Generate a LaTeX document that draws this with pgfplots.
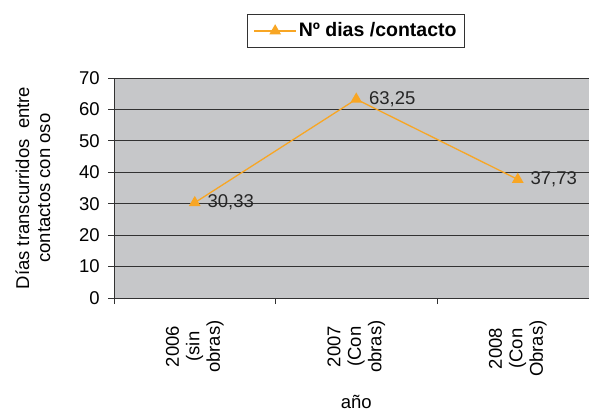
\documentclass[border=0pt]{standalone}
\usepackage{fontspec}
\setmainfont{Liberation Sans}
\usepackage{pgfplots}
\pgfplotsset{compat=1.18}
\definecolor{bggray}{RGB}{198,199,201}
\definecolor{lineor}{RGB}{248,166,36}
\definecolor{gridc}{RGB}{50,50,50}
\begin{document}
\begin{tikzpicture}[x=1bp,y=1bp]
\useasboundingbox (0,0) rectangle (589,412);
\fontsize{18.5bp}{21bp}\selectfont
\begin{axis}[
  at={(114bp,114bp)}, anchor=south west,
  scale only axis, width=484.5bp, height=220bp,
  xmin=-0.5, xmax=2.5, ymin=0, ymax=70,
  axis lines=left,
  axis line style={-, draw=gridc, line width=0.8bp},
  axis background/.style={fill=bggray},
  ytick={0,10,...,70},
  ymajorgrids, grid style={draw=gridc, line width=0.8bp},
  xtick={-0.5,0.5,1.5},
  xticklabels={},
  extra x ticks={0,1,2},
  extra x tick style={major tick length=0pt, grid=none},
  extra x tick labels={{2006\\(sin\\obras)},{2007\\(Con\\obras)},{2008\\(Con\\Obras)}},
  xticklabel style={rotate=90, anchor=east, align=center, font=\fontsize{18.5bp}{20.5bp}\selectfont, xshift=-16bp},
  tick align=outside, major tick length=6bp,
  tick style={draw=gridc, line width=0.8bp},
  /pgf/number format/assume math mode=true,
  ticklabel style={font=\fontsize{18.5bp}{21bp}\selectfont},
  yticklabel style={xshift=-2bp},
  xlabel={año},
  xlabel style={font=\fontsize{18.5bp}{21bp}\selectfont, at={(axis description cs:0.5,0)}, anchor=center, yshift=-104bp},
  ylabel={Días transcurridos \ entre\\contactos con oso},
  ylabel style={font=\fontsize{18.5bp}{21bp}\selectfont, align=center, at={(axis description cs:0,0.5)}, anchor=center, yshift=81bp},
  legend style={at={(axis description cs:0.4995,1.2136)}, anchor=center, draw=gridc, line width=1.2bp, fill=white,
    font=\bfseries\fontsize{19.5bp}{22bp}\selectfont, inner xsep=6bp, inner ysep=6bp},
  legend cell align=left,
  legend image code/.code={\draw[mark repeat=2,mark phase=2] plot coordinates {(0bp,0bp)(21bp,0bp)(42bp,0bp)};},
  nodes near coords, point meta=explicit symbolic,
  every node near coord/.style={anchor=west, xshift=6bp, font=\fontsize{18.5bp}{21bp}\selectfont, text=black!85},
  clip=false,
]
\addplot[color=lineor, line width=1.3bp, mark=triangle*, mark size=5.5bp, mark options={fill=lineor, draw=lineor}]
  table[meta=label] {
x y label
0 30.33 30,33
1 63.25 63,25
2 37.73 37,73
};
\addlegendentry{Nº dias /contacto}
\end{axis}
\end{tikzpicture}
\end{document}
